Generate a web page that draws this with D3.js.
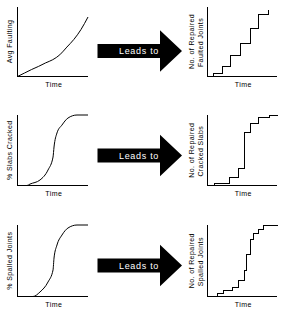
<!DOCTYPE html>
<html><head><meta charset="utf-8">
<script src="https://cdn.jsdelivr.net/npm/d3@7"></script>
<style>html,body{margin:0;padding:0;background:#fff;}svg{display:block;}</style>
</head><body><div id="chart"></div>
<script>
// ---- data ----
const xLabel = "Time";
const arrowLabel = "Leads to";
const leftLabels = ["Avg Faulting", "% Slabs Cracked", "% Spalled Joints"];
const rightLabelTop = "No. of Repaired";
const rightLabelBottom = ["Faulted Joints", "Cracked Slabs", "Spalled Joints"];

// left curves: [time %, value %]
const faultingCurve = [[0,0],[10,5],[20,10],[30,14.5],[40,19.5],[50,24],[60,31],[70,42],[80,53],[90,67],[100,85]];
const crackedCurve = [[5,0],[13.5,0],[17.7,2],[31.9,7.8],[43.3,22],[50.4,40.4],[51.8,54.6],[56,74.5],[63.1,85.8],[71.6,95.7],[84.4,100],[100,100]];
const spalledCurve = [[13.5,0],[22,0],[31.9,6.3],[43.3,20.3],[50.4,37.1],[51.8,53.8],[56,72],[63.1,86],[71.6,95.8],[84.4,100],[100,100]];

// right step series: [time %, cumulative repairs %]
const faultedRepairs = [[8.3,0],[8.3,4.6],[21.3,14],[33.4,30.7],[47.8,47.4],[61.2,68.9],[73.7,88.9],[87.1,96]];
const crackedRepairs = [[9.8,0],[9.8,3.5],[31.9,11.6],[44.9,24.4],[53.5,75.5],[61.6,88.2],[73.7,96.2],[89.5,100],[100,100]];
const spalledRepairs = [[14.1,0],[14.1,4.5],[22.7,8.1],[35.7,12.9],[45.3,22.7],[53.5,36.1],[56.8,59],[61.2,80],[66.9,88.8],[73.7,94.4],[80.3,100],[100,100]];

const leftSeries = [faultingCurve, crackedCurve, spalledCurve];
const rightSeries = [faultedRepairs, crackedRepairs, spalledRepairs];

// ---- layout ----
const W = 281, H = 313;
const tops = [6.5, 115, 225];
const bottoms = [76.5, 185.5, 296.5];
const arrowY = [51, 155.5, 265.5];
const leftX = [17.5, 88], rightX = [207.5, 277];
const FONT = "'Liberation Sans', Arial, sans-serif";

const svg = d3.select("#chart").append("svg").attr("width", W).attr("height", H);

for (let i = 0; i < 3; i++) {
  const yS = d3.scaleLinear().domain([0, 100]).range([bottoms[i], tops[i]]);
  const xL = d3.scaleLinear().domain([0, 100]).range(leftX);
  const xR = d3.scaleLinear().domain([0, 100]).range(rightX);
  const mid = (tops[i] + bottoms[i]) / 2;

  // axes (L-shaped)
  [[xL, leftX], [xR, rightX]].forEach(([xs, rng]) => {
    svg.append("path")
      .attr("d", `M${rng[0]},${tops[i]}V${bottoms[i]}H${rng[1]}`)
      .attr("fill", "none").attr("stroke", "#000").attr("stroke-width", 1)
      .attr("shape-rendering", "crispEdges");
    svg.append("text")
      .attr("x", (rng[0] + rng[1]) / 2 + 1)
      .attr("y", bottoms[i] + 7.5)
      .attr("text-anchor", "middle").attr("dominant-baseline", "central")
      .attr("font-family", FONT).attr("font-size", 7).attr("letter-spacing", 0.4)
      .text(xLabel);
  });

  // left curve
  const lineL = d3.line().x(d => xL(d[0])).y(d => yS(d[1])).curve(d3.curveMonotoneX);
  svg.append("path").attr("d", lineL(leftSeries[i]))
    .attr("fill", "none").attr("stroke", "#000").attr("stroke-width", 1);

  // right steps
  const lineR = d3.line()
    .x(d => Math.round(xR(d[0]) - 0.5) + 0.5)
    .y(d => Math.round(yS(d[1]) - 0.5) + 0.5)
    .curve(d3.curveStepAfter);
  svg.append("path").attr("d", lineR(rightSeries[i]))
    .attr("fill", "none").attr("stroke", "#000").attr("stroke-width", 1)
    .attr("shape-rendering", "crispEdges");

  // left y label
  svg.append("text")
    .attr("transform", `translate(9.5,${mid}) rotate(-90)`)
    .attr("text-anchor", "middle").attr("dominant-baseline", "central")
    .attr("font-family", FONT).attr("font-size", 7).attr("letter-spacing", 0.4)
    .text(leftLabels[i]);

  // right y labels (two lines)
  svg.append("text")
    .attr("transform", `translate(191.5,${mid}) rotate(-90)`)
    .attr("text-anchor", "middle").attr("dominant-baseline", "central")
    .attr("font-family", FONT).attr("font-size", 7).attr("letter-spacing", 0.4)
    .text(rightLabelTop);
  svg.append("text")
    .attr("transform", `translate(200,${mid + 1}) rotate(-90)`)
    .attr("text-anchor", "middle").attr("dominant-baseline", "central")
    .attr("font-family", FONT).attr("font-size", 7).attr("letter-spacing", 0.4)
    .text(rightLabelBottom[i]);

  // arrow
  const cy = arrowY[i];
  const bodyL = 97.5, bodyR = 160, tip = 182, bh = 7, hh = 20.8;
  svg.append("path")
    .attr("d", `M${bodyL},${cy - bh}H${bodyR}V${cy - hh}L${tip},${cy}L${bodyR},${cy + hh}V${cy + bh}H${bodyL}Z`)
    .attr("fill", "#000");
  svg.append("text")
    .attr("x", 139).attr("y", cy)
    .attr("text-anchor", "middle").attr("dominant-baseline", "central")
    .attr("font-family", FONT).attr("font-size", 9).attr("letter-spacing", 0.7)
    .attr("fill", "#fff")
    .text(arrowLabel);
}
</script></body></html>
